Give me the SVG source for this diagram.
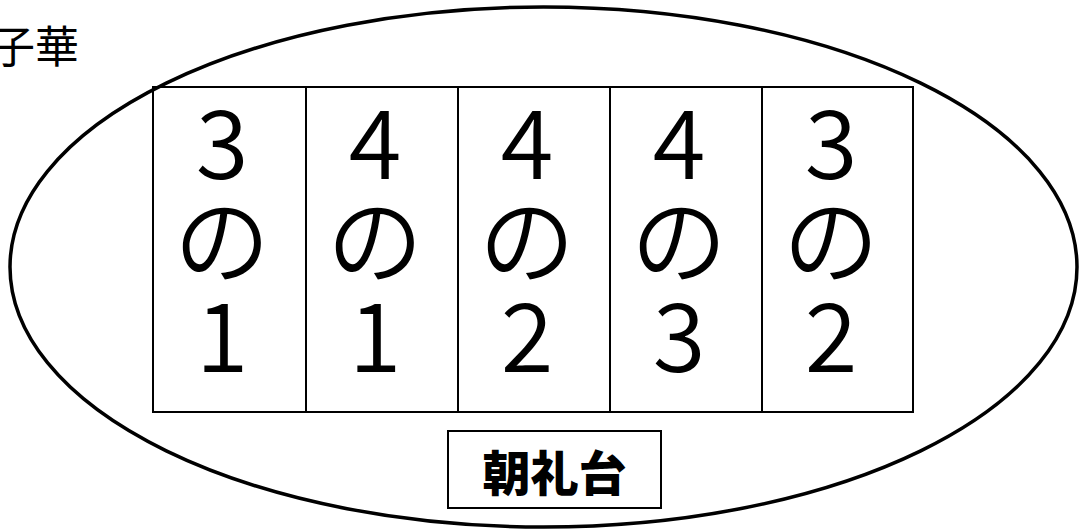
<svg xmlns="http://www.w3.org/2000/svg" width="1081" height="531" viewBox="0 0 1081 531">
<style>
.num{font-family:"Noto Sans CJK JP","Noto Sans",sans-serif;font-size:96px;font-weight:350;text-anchor:middle;fill:#000}
.cell{fill:none;stroke:#000;stroke-width:2}
</style>
<rect width="1081" height="531" fill="#fff"/>
<text x="79" y="63" font-family="'Noto Sans CJK JP',sans-serif" font-size="44" text-anchor="end" fill="#000">子華</text>
<g id="ground"><ellipse cx="543.5" cy="267" rx="533.5" ry="260" fill="none" stroke="#000" stroke-width="3.5"/></g>
<g id="connectors"></g>
<g id="c31"><rect class="cell" x="153" y="87" width="153" height="325"/><text class="num" x="222" y="179">3</text><text class="num" x="222" y="276">の</text><text class="num" x="222" y="372">1</text></g>
<g id="c41"><rect class="cell" x="306" y="87" width="152" height="325"/><text class="num" x="375" y="179">4</text><text class="num" x="375" y="276">の</text><text class="num" x="375" y="372">1</text></g>
<g id="c42"><rect class="cell" x="458" y="87" width="152" height="325"/><text class="num" x="527" y="179">4</text><text class="num" x="527" y="276">の</text><text class="num" x="527" y="372">2</text></g>
<g id="c43"><rect class="cell" x="610" y="87" width="152" height="325"/><text class="num" x="679" y="179">4</text><text class="num" x="679" y="276">の</text><text class="num" x="679" y="372">3</text></g>
<g id="c32"><rect class="cell" x="762" y="87" width="151" height="325"/><text class="num" x="831" y="179">3</text><text class="num" x="831" y="276">の</text><text class="num" x="831" y="372">2</text></g>
<g id="stage"><rect x="448" y="431" width="213" height="77" fill="#fff" stroke="#000" stroke-width="2"/><text x="554.5" y="491" font-family="'Noto Sans CJK JP',sans-serif" font-weight="900" font-size="48" text-anchor="middle" fill="#000">朝礼台</text></g>
</svg>
